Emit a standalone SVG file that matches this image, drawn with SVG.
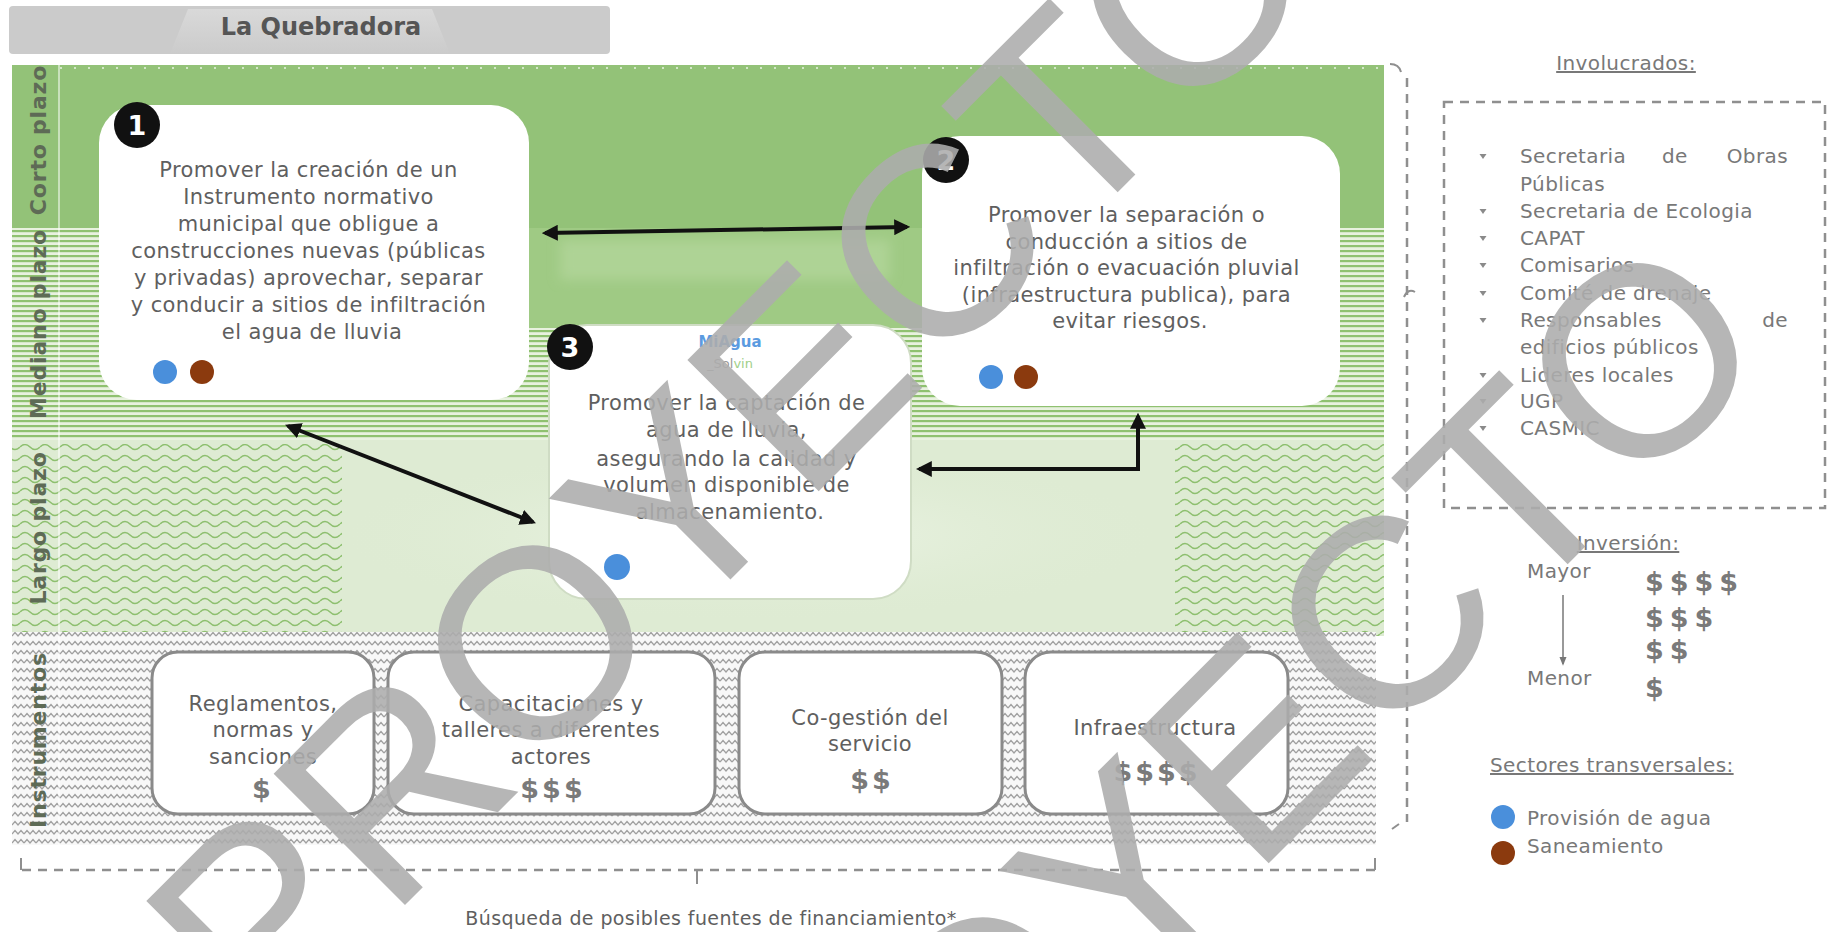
<svg xmlns="http://www.w3.org/2000/svg" width="1831" height="932" viewBox="0 0 1831 932">
<defs>
<style>
.t{font-family:"DejaVu Sans","Liberation Sans",sans-serif;font-size:21px;fill:#5f5f5f;letter-spacing:0.4px}
.c{text-anchor:middle}
.lbl{font-family:"DejaVu Sans","Liberation Sans",sans-serif;font-weight:bold;font-size:22px;fill:#5e6b56;letter-spacing:0.8px;text-anchor:middle}
.num{font-family:"DejaVu Sans","Liberation Sans",sans-serif;font-weight:bold;font-size:27px;fill:#fff;text-anchor:middle}
.usd{font-family:"DejaVu Sans","Liberation Sans",sans-serif;font-weight:bold;font-size:27px;fill:#7a7a7a;letter-spacing:3px}
.r{font-family:"DejaVu Sans","Liberation Sans",sans-serif;font-size:20px;fill:#787878;letter-spacing:0.4px}
.u{text-decoration:underline}
.wm{font-family:"Liberation Sans",Arial,sans-serif;font-size:270px;fill:#adadad;opacity:0.88}
.box{fill:#fff}
.ibox{fill:#fff;stroke:#8a8a8a;stroke-width:3}
.arr{fill:none;stroke:#111;stroke-width:4;marker-start:url(#ah);marker-end:url(#ah)}
.dash{fill:none;stroke:#8f8f8f;stroke-width:2.5;stroke-dasharray:9 7}
</style>
<marker id="ah" viewBox="0 0 10 10" refX="8" refY="5" markerWidth="4" markerHeight="4" orient="auto-start-reverse"><path d="M0 0 L10 5 L0 10 Z" fill="#111"/></marker>
<marker id="sm" viewBox="0 0 10 10" refX="8" refY="5" markerWidth="6" markerHeight="6" orient="auto"><path d="M0 1 L10 5 L0 9 Z" fill="#777"/></marker>
<path id="bul" d="M-3.5 -2 L3.5 -2 L0 3 Z" fill="#8a8a8a"/>
<pattern id="hs" width="8" height="5" patternUnits="userSpaceOnUse"><rect width="8" height="5" fill="#e8f1df"/><rect width="8" height="2.2" fill="#8fc170"/></pattern>
<pattern id="wv" width="20" height="11" patternUnits="userSpaceOnUse"><path d="M0 7 Q5 2 10 7 T20 7" fill="none" stroke="#8dbf6e" stroke-width="1.6"/></pattern>
<pattern id="zz" width="12" height="9" patternUnits="userSpaceOnUse"><rect width="12" height="9" fill="#f8f8f8"/><path d="M0 6 L3 2.5 L6 6 L9 2.5 L12 6" fill="none" stroke="#a0a0a0" stroke-width="1.2"/></pattern>
<linearGradient id="tab" x1="0" y1="0" x2="0" y2="1"><stop offset="0" stop-color="#d9d9d9"/><stop offset="1" stop-color="#cbcbcb"/></linearGradient>
<radialGradient id="glow" cx="0.5" cy="0.5" r="0.5"><stop offset="0" stop-color="#eef5e8"/><stop offset="1" stop-color="#dfecd4" stop-opacity="0"/></radialGradient>
<filter id="soft" x="-10%" y="-30%" width="120%" height="160%"><feGaussianBlur stdDeviation="6"/></filter>
</defs>

<rect width="1831" height="932" fill="#fff"/>

<!-- title bar -->
<g id="title">
<rect x="9" y="6" width="601" height="48" rx="4" fill="#cbcbcb"/>
<path d="M170 54 L188 9 L432 9 L450 54 Z" fill="url(#tab)"/>
<text x="321" y="35" class="c" style="font-family:'DejaVu Sans','Liberation Sans',sans-serif;font-weight:bold;font-size:24px;fill:#555">La Quebradora</text>
</g>

<!-- bands -->
<g id="bands">
<rect x="12" y="65" width="1372" height="165" fill="#93c278"/>
<rect x="12" y="228" width="1372" height="214" fill="url(#hs)"/>
<rect x="529" y="228" width="393" height="100" fill="#9fca84"/>
<rect x="560" y="240" width="330" height="40" fill="#aed395" filter="url(#soft)"/>
<rect x="12" y="440" width="1372" height="196" fill="#deebd3"/>
<rect x="12" y="444" width="330" height="192" fill="url(#wv)"/>
<rect x="1175" y="444" width="209" height="192" fill="url(#wv)"/>
<rect x="340" y="450" width="820" height="170" fill="url(#glow)"/>
<rect x="12" y="632" width="1364" height="213" fill="url(#zz)"/>
<line x1="60" y1="68" x2="1384" y2="68" stroke="#fff" stroke-opacity="0.6" stroke-width="2" stroke-dasharray="2 12"/>
<line x1="59" y1="65" x2="59" y2="845" stroke="#fff" stroke-opacity="0.5" stroke-width="2"/>
</g>

<!-- axis labels -->
<g id="labels">
<text class="lbl" transform="translate(46,140) rotate(-90)">Corto plazo</text>
<text class="lbl" transform="translate(46,324) rotate(-90)">Mediano plazo</text>
<text class="lbl" transform="translate(46,528) rotate(-90)">Largo plazo</text>
<text class="lbl" transform="translate(46,740) rotate(-90)">Instrumentos</text>
</g>

<!-- outer dashed frame -->
<g id="frame">
<path class="dash" d="M1407 78 V822"/>
<path class="dash" d="M22 870 H1375"/>
<path d="M21 858 V870 M1375 858 V870 M697 870 V884" stroke="#8f8f8f" stroke-width="2" fill="none"/>
<path d="M1390 64 q9 0 11 8 M1399 824 l-7 5 M1404 297 q4 -9 11 -5" stroke="#8f8f8f" stroke-width="2" fill="none"/>
<text x="711" y="925" class="t c" style="font-size:19px">Búsqueda de posibles fuentes de financiamiento*</text>
</g>

<!-- node 1 -->
<g id="n1">
<rect x="99" y="105" width="430" height="295" rx="38" class="box"/>
<circle cx="137" cy="125" r="23" fill="#111"/>
<text x="137" y="135" class="num">1</text>
<text class="t c" x="312">
<tspan x="312" y="177">Promover la creación de un</tspan>
<tspan x="312" y="204">Instrumento normativo</tspan>
<tspan x="312" y="231">municipal que obligue a</tspan>
<tspan x="312" y="258">construcciones nuevas (públicas</tspan>
<tspan x="312" y="285">y privadas) aprovechar, separar</tspan>
<tspan x="312" y="312">y conducir a sitios de infiltración</tspan>
<tspan x="312" y="339">el agua de lluvia</tspan>
</text>
<circle cx="165" cy="372" r="12" fill="#4a8fdb"/>
<circle cx="202" cy="372" r="12" fill="#8b3a0e"/>
</g>

<!-- node 2 -->
<g id="n2">
<rect x="922" y="136" width="418" height="270" rx="38" class="box"/>
<circle cx="946" cy="160" r="23" fill="#111"/>
<text x="946" y="170" class="num">2</text>
<text class="t c" x="1130">
<tspan x="1130" y="222">Promover la separación o</tspan>
<tspan x="1130" y="249">conducción a sitios de</tspan>
<tspan x="1130" y="275">infiltración o evacuación pluvial</tspan>
<tspan x="1130" y="302">(infraestructura publica), para</tspan>
<tspan x="1130" y="328">evitar riesgos.</tspan>
</text>
<circle cx="991" cy="377" r="12" fill="#4a8fdb"/>
<circle cx="1026" cy="377" r="12" fill="#8b3a0e"/>
</g>

<!-- node 3 -->
<g id="n3">
<rect x="549" y="325" width="362" height="274" rx="38" class="box" stroke="#cfdcc4" stroke-width="2"/>
<circle cx="570" cy="347" r="23" fill="#111"/>
<text x="570" y="357" class="num">3</text>
<text x="730" y="347" class="c" style="font-family:'DejaVu Sans',sans-serif;font-weight:bold;font-size:15px;fill:#5b9be0">MiAgua</text>
<text x="730" y="368" class="c" style="font-family:'DejaVu Sans',sans-serif;font-size:13px;fill:#9a9a9a">_Sol<tspan fill="#9fd08a">vin</tspan></text>
<text class="t c" x="730">
<tspan x="730" y="410">Promover la captación de</tspan>
<tspan x="730" y="437">agua de lluvia,</tspan>
<tspan x="730" y="466">asegurando la calidad y</tspan>
<tspan x="730" y="492">volumen disponible de</tspan>
<tspan x="730" y="519">almacenamiento.</tspan>
</text>
<circle cx="617" cy="567" r="13" fill="#4a8fdb"/>
</g>

<!-- instruments -->
<g id="i1">
<rect x="152" y="652" width="222" height="162" rx="26" class="ibox"/>
<text class="t c" x="263"><tspan x="263" y="711">Reglamentos,</tspan><tspan x="263" y="737">normas y</tspan><tspan x="263" y="764">sanciones</tspan></text>
<text class="usd c" x="263" y="798">$</text>
</g>
<g id="i2">
<rect x="388" y="652" width="327" height="162" rx="26" class="ibox"/>
<text class="t c" x="551"><tspan x="551" y="711">Capacitaciones y</tspan><tspan x="551" y="737">talleres a diferentes</tspan><tspan x="551" y="764">actores</tspan></text>
<text class="usd c" x="553" y="798">$$$</text>
</g>
<g id="i3">
<rect x="739" y="652" width="263" height="162" rx="26" class="ibox"/>
<text class="t c" x="870"><tspan x="870" y="725">Co-gestión del</tspan><tspan x="870" y="751">servicio</tspan></text>
<text class="usd c" x="872" y="789">$$</text>
</g>
<g id="i4">
<rect x="1025" y="652" width="263" height="162" rx="26" class="ibox"/>
<text class="t c" x="1155" y="735">Infraestructura</text>
<text class="usd c" x="1157" y="781">$$$$</text>
</g>

<!-- connectors -->
<g id="connectors">
<path class="arr" d="M545 233 L907 227"/>
<path class="arr" d="M288 426 L533 522"/>
<path class="arr" d="M919 469 H1138 V416"/>
</g>

<!-- right panel -->
<g id="involucrados">
<text x="1626" y="70" class="r c u">Involucrados:</text>
<rect x="1444" y="102" width="381" height="406" class="dash" stroke="#9d9d9d" stroke-width="2"/>
<use href="#bul" x="1483" y="156"/><use href="#bul" x="1483" y="211"/><use href="#bul" x="1483" y="238"/><use href="#bul" x="1483" y="265"/><use href="#bul" x="1483" y="293"/><use href="#bul" x="1483" y="320"/><use href="#bul" x="1483" y="375"/><use href="#bul" x="1483" y="401"/><use href="#bul" x="1483" y="428"/>
<text class="r" x="1520" y="163">Secretaria</text>
<text class="r" x="1662" y="163">de</text>
<text class="r" x="1788" y="163" text-anchor="end">Obras</text>
<text class="r" x="1520" y="191">Públicas</text>
<text class="r" x="1520" y="218">Secretaria de Ecologia</text>
<text class="r" x="1520" y="245">CAPAT</text>
<text class="r" x="1520" y="272">Comisarios</text>
<text class="r" x="1520" y="300">Comité de drenaje</text>
<text class="r" x="1520" y="327">Responsables</text>
<text class="r" x="1788" y="327" text-anchor="end">de</text>
<text class="r" x="1520" y="354">edificios públicos</text>
<text class="r" x="1520" y="382">Lideres locales</text>
<text class="r" x="1520" y="408">UGP</text>
<text class="r" x="1520" y="435">CASMIC</text>
</g>

<g id="inversion">
<text x="1628" y="550" class="r c u">Inversión:</text>
<text x="1527" y="578" class="r">Mayor</text>
<text x="1527" y="685" class="r">Menor</text>
<line x1="1563" y1="595" x2="1563" y2="664" stroke="#777" stroke-width="1.5" marker-end="url(#sm)"/>
<text x="1645" y="591" class="usd" style="letter-spacing:6px">$$$$</text>
<text x="1645" y="627" class="usd" style="letter-spacing:6px">$$$</text>
<text x="1645" y="659" class="usd" style="letter-spacing:6px">$$</text>
<text x="1645" y="697" class="usd">$</text>
</g>

<g id="sectores">
<text x="1490" y="772" class="r u">Sectores transversales:</text>
<circle cx="1503" cy="817" r="12" fill="#4a8fdb"/>
<text x="1527" y="825" class="r">Provisión de agua</text>
<circle cx="1503" cy="853" r="12" fill="#8b3a0e"/>
<text x="1527" y="853" class="r">Saneamiento</text>
</g>

<!-- watermark -->
<g id="watermark">
<text class="wm" transform="translate(262,1048) rotate(-45)">PROYECTO</text>
<text class="wm" transform="translate(712,1420) rotate(-45)">PROYECTO</text>
</g>
</svg>
